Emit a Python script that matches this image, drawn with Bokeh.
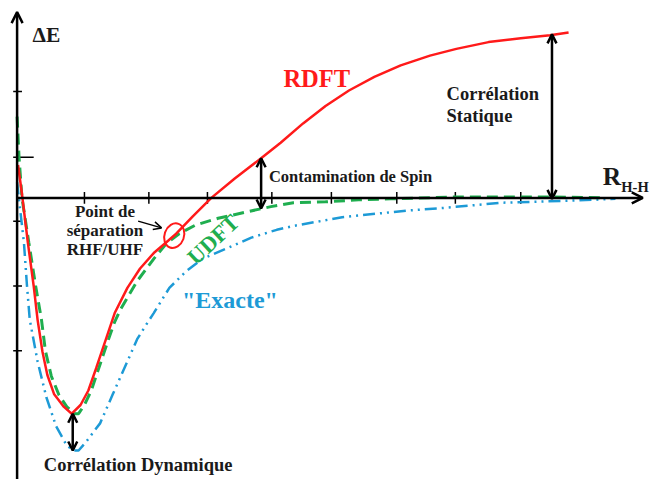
from bokeh.plotting import figure
from bokeh.models import Range1d, Label, Arrow, OpenHead
from bokeh.embed import file_html
from bokeh.resources import INLINE

# Schematic units: R measured from the dE axis, E measured from the R axis (up positive)
rdft_r = [1, 5, 11, 17, 21, 26, 31, 38, 48, 56, 65, 73, 81, 90, 100, 113, 126, 140, 155, 163,
          180, 199, 223, 250, 270, 293, 316, 340, 366, 393, 423, 450, 483, 516, 546, 565]
rdft_e = [34, 4, -46, -91, -126, -159, -183, -203, -216, -223, -214, -199, -176, -149, -119, -93,
          -73, -57, -44, -37, -19, 0, 20, 41, 57, 77, 95, 111, 125, 137, 147, 154, 161, 165, 168, 171]

udft_r = [0, 2, 5, 12, 19, 25, 29, 35, 43, 51, 59, 63, 69, 76, 82, 88, 94, 100, 106, 123,
          140, 153, 166, 183, 206, 233, 260, 283, 316, 350, 383, 450, 550, 603]
udft_e = [84, 42, 0, -46, -91, -126, -158, -184, -204, -216, -223, -223, -214, -199, -181, -163,
          -145, -128, -115, -86, -63, -47, -37, -28, -21, -15, -9, -5, -4, -2, -1, 1, 1, 0]

exact_r = [0, 3, 7, 10, 13, 21, 30, 40, 51, 58, 63, 70, 85, 98, 113, 123, 131, 140, 156, 173,
           190, 213, 240, 266, 283, 333, 400, 430, 496, 563, 613]
exact_e = [16, -11, -46, -89, -126, -169, -206, -236, -256, -261, -261, -253, -233, -203, -169,
           -146, -133, -119, -93, -76, -63, -53, -41, -33, -29, -20, -13, -11, -5, -3, -1]

e_ticks = [110, 42, -24, -91, -158]
r_ticks = [69, 135, 195, 261, 322, 389, 449, 516]

RED = "#ff1a1a"
GREEN = "#1fae4f"
BLUE = "#1d9ad6"
INK = "#1a1a1a"
FONT = "Liberation Serif"

p = figure(width=653, height=479, output_backend="svg", toolbar_location=None,
           x_range=Range1d(-17, 652), y_range=Range1d(-291, 204),
           x_axis_type=None, y_axis_type=None, min_border=0)
p.grid.visible = False
p.outline_line_color = None
p.background_fill_color = "white"
p.border_fill_color = "white"

# axes
def axis_head():
    return OpenHead(size=11, line_width=2.5, line_color="black")

p.add_layout(Arrow(end=axis_head(), x_start=0, y_start=-300, x_end=0, y_end=192,
                   line_width=2.5, line_color="black"))
p.add_layout(Arrow(end=axis_head(), x_start=0, y_start=0, x_end=641, y_end=0,
                   line_width=2.5, line_color="black"))
# ticks
y_tick_x0 = [-4] * len(e_ticks)
y_tick_x1 = [17 if e == 42 else 5 for e in e_ticks]
p.segment(x0=y_tick_x0, y0=e_ticks, x1=y_tick_x1, y1=e_ticks, line_color="black", line_width=1.5)
p.segment(x0=r_ticks, y0=[6] * len(r_ticks), x1=r_ticks, y1=[-6] * len(r_ticks),
          line_color="black", line_width=1.5)

# curves
p.line(exact_r, exact_e, line_color=BLUE, line_width=2.5, line_dash="12 5 2 5 2 5")
p.line(udft_r, udft_e, line_color=GREEN, line_width=3, line_dash="11 6")
p.line(rdft_r, rdft_e, line_color=RED, line_width=2.5)

# separation point circle
p.ellipse(x=[161], y=[-39], width=20, height=26, angle=-0.35, fill_color=None,
          line_color=RED, line_width=2)


def dbl(x0, y0, x1, y1):
    p.add_layout(Arrow(start=OpenHead(size=9, line_width=2.5, line_color="black"),
                       end=OpenHead(size=9, line_width=2.5, line_color="black"),
                       x_start=x0, y_start=y0, x_end=x1, y_end=y1,
                       line_width=2.5, line_color="black"))


dbl(57, -223, 57, -261)
dbl(250, 41, 250, -11)
dbl(548, 169, 548, -1)
p.add_layout(Arrow(end=OpenHead(size=8, line_width=1.5, line_color="black"),
                   x_start=124, y_start=-24, x_end=148, y_end=-31,
                   line_width=1.5, line_color="black"))


def lab(x, y, text, size, color=INK, align="center", angle=0):
    p.add_layout(Label(x=x, y=y, text=text, text_font=FONT, text_font_size=f"{size}px",
                       text_font_style="bold", text_color=color, text_align=align,
                       text_baseline="middle", angle=angle, angle_units="deg"))


lab(30, 168, "ΔE", 21.5)
lab(307, 123, "RDFT", 24.5, RED)
lab(440, 107, "Corrélation", 18.5, align="left")
lab(440, 85, "Statique", 18.5, align="left")
lab(258, 22, "Contamination de Spin", 16.5, align="left")
lab(90, -14, "Point de", 17)
lab(90, -34, "séparation", 17)
lab(90, -53, "RHF/UHF", 17)
lab(201, -43, "UDFT", 22.5, GREEN, angle=43)
lab(218, -106, '"Exacte"', 24, BLUE)
lab(124, -276, "Corrélation Dynamique", 18.5)
lab(600, 22, "R", 25.5, align="left")
lab(619, 11, "H-H", 14.5, align="left")

open("out.html", "w").write(file_html(p, INLINE))
